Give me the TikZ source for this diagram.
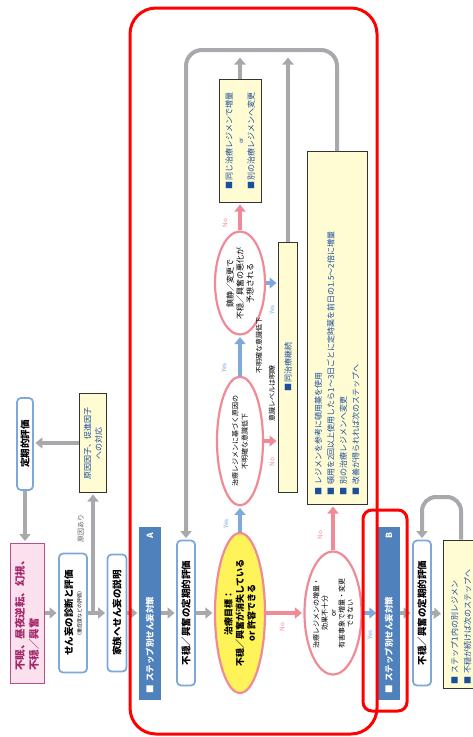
\documentclass[tikz,border=0pt]{standalone}
\usepackage{fontspec}
\setmainfont{Noto Sans CJK JP}
\usetikzlibrary{arrows.meta,shapes.geometric}

\definecolor{boxblue}{HTML}{7EA8DA}
\definecolor{barblue}{HTML}{4F81BD}
\definecolor{arrgray}{HTML}{A7A9AC}
\definecolor{noteyel}{HTML}{FFFBD3}
\definecolor{goalyel}{HTML}{FFF35A}
\definecolor{ringpink}{HTML}{F08A96}
\definecolor{yesblue}{HTML}{7FA9DC}
\definecolor{txtblue}{HTML}{1C4E9E}
\definecolor{sympink}{HTML}{FBE1EE}
\definecolor{symedge}{HTML}{B5508C}
\definecolor{symtxt}{HTML}{A3286A}

\begin{document}
\begin{tikzpicture}[x=1pt,y=-1pt,
  rbox/.style={draw=boxblue,line width=1.8pt,rounded corners=4pt,fill=white,rotate=90,inner sep=1pt,font=\bfseries\fontsize{9.5}{11}\selectfont},
  note/.style={draw=black!80,line width=1pt,fill=noteyel,rotate=90,inner sep=2pt,text=txtblue,font=\fontsize{8}{11}\selectfont},
  sym/.style={draw=symedge,line width=1pt,fill=sympink,rotate=90,align=left,text=symtxt,font=\bfseries\fontsize{10.5}{14}\selectfont},
  bar/.style={fill=barblue,rotate=90,text=white,inner sep=0pt,minimum width=173pt,minimum height=22pt,text width=160pt,font=\bfseries\fontsize{8.5}{10}\selectfont},
  ask/.style={ellipse,draw=ringpink,line width=2.2pt,fill=white,rotate=90,inner sep=0pt,align=center},
  garr/.style={-{Triangle[width=11pt,length=7pt]},draw=arrgray,line width=4pt,shorten >=1.5pt},
  yarr/.style={garr,draw=yesblue},
  narr/.style={garr,draw=ringpink},
  yes/.style={rotate=90,text=yesblue,font=\fontsize{6.5}{7}\selectfont},
  no/.style={yes,text=ringpink},
  lbl/.style={rotate=90,font=\fontsize{7}{8}\selectfont}]
\useasboundingbox (0,0) rectangle (472,737);

% --- entry ---
\node[sym,minimum width=140pt,minimum height=34pt] (symptom) at (27,613) {不眠、昼夜逆転、幻視、\\不穏／興奮};
\node[rbox,minimum width=92pt,minimum height=16pt] (periodic) at (25,444) {定期的評価};
\node[note,minimum width=99pt,minimum height=27pt,align=center] (cause) at (93,443) {原因因子、促進因子\\への対応};
\node[rbox,minimum width=119pt,minimum height=28pt,align=center] (diag) at (73,613) {せん妄の診断と評価\\[-2pt]{\mdseries\fontsize{5}{6}\selectfont（重症度などの評価）}};
\node[rbox,minimum width=117pt,minimum height=19pt] (family) at (117,613) {家族へせん妄の説明};
\node[lbl,text=black!60] (lcause) at (81,528) {原因あり};

% --- step A ---
\node[bar] (barA) at (150,613) {■ ステップ別せん妄対策\hfill A};
\node[rbox,minimum width=145pt,minimum height=18pt] (evalA) at (186,613) {不穏／興奮の定期的評価};
\node[ask,fill=goalyel,minimum width=160pt,minimum height=50pt,font=\bfseries\fontsize{9}{11.5}\selectfont] (goal) at (240,613) {治療目標：\\不穏／興奮が消失している\\or 許容できる};
\node[ask,minimum width=123pt,minimum height=46pt,font=\fontsize{7}{9.5}\selectfont] (check1) at (240,441) {治療レジメンに基づく原因の\\不明確な意識低下};
\node[ask,minimum width=103pt,minimum height=50pt,font=\fontsize{8}{10}\selectfont] (check2) at (240,283) {鎮静／変更で\\不穏／興奮の悪化が\\予想される};
\node[note,minimum width=123pt,minimum height=42pt,align=center] (act1) at (240,141) {■ 同じ治療レジメンで増量\\{\fontsize{6}{7}\selectfont or}\\■ 別の治療レジメンへ変更};
\node[note,minimum width=250pt,minimum height=19pt] (keep) at (288,367) {■ 同治療継続};
\node[note,minimum width=353pt,minimum height=60pt,text width=335pt,align=left,font=\fontsize{8}{12.5}\selectfont] (act2) at (337,328) {■ レジメンを参考に頓用薬を使用\\■ 頓用を2回以上使用したら1～3日ごとに定時薬を前日の1.5～2倍に増量\\■ 別の治療レジメンへ変更\\■ 改善が得られれば次のステップへ};
\node[ask,minimum width=123pt,minimum height=57pt,font=\fontsize{7}{8.5}\selectfont] (check3) at (333,613) {治療レジメンの増量・\\効果不十分\\or\\有害事象で増量・変更\\できない};

% --- step B ---
\node[bar] (barB) at (389,613) {■ ステップ別せん妄対策\hfill B};
\node[rbox,minimum width=145pt,minimum height=18pt] (evalB) at (422,613) {不穏／興奮の定期的評価};
\node[note,minimum width=148pt,minimum height=36pt,text width=140pt,align=left,font=\fontsize{8}{13}\selectfont] (next) at (461,614) {■ ステップ1内の別レジメン\\■ 不穏が続けば次のステップへ};

% --- labels ---
\node[yes] (y1) at (226,524) {Yes};
\node[no] (n1) at (282,627) {No};
\node[yes] (y2) at (224,368) {Yes};
\node[no] (n2) at (272,462) {No};
\node[lbl] (l1) at (259,345) {不明確な意識低下};
\node[lbl] (l2) at (272,393) {意識レベルは明瞭};
\node[yes] (y3) at (272,310) {Yes};
\node[no] (n3) at (225,223) {No};
\node[no] (n4) at (320,535) {No};
\node[yes] (y4) at (370,635) {Yes};

% --- arrows ---
\draw[garr] (periodic.west) -- (periodic.west |- symptom.east);
\draw[garr] (symptom.south) -- (diag.north);
\draw[garr] (diag.south) -- (family.north);
\draw[garr] (diag.south -| cause.west) -- (cause.west);
\draw[garr] (cause.north) -- (cause.north -| periodic.south);
\draw[garr] (family.south) -- (barA.north);
\draw[garr] (barA.south) -- (evalA.north);
\draw[garr] (evalA.south) -- (goal.north);
\draw[yarr] (goal.east) -- (check1.west);
\draw[narr] (goal.south) -- (check3.north);
\draw[yarr] (check1.east) -- (check2.west);
\draw[narr] (check1.south) -- (check1.south -| keep.north);
\draw[yarr] (check2.south) -- (check2.south -| keep.north);
\draw[narr] (check2.east) -- (act1.west);
\draw[narr] (check3.east) -- (check3.east |- act2.west);
\draw[yarr] (check3.south) -- (barB.north);
\draw[garr] (barB.south) -- (evalB.north);
\draw[garr] (evalB.south) -- (next.north);

% loops back
\coordinate (topA) at (0,50);
\coordinate (tipA) at (0,56);
\draw[garr,rounded corners=16pt] (act2.east) -- (act2.east |- topA) -- (evalA.east |- topA) -- (evalA.east);
\draw[garr] (act1.east) -- (act1.east |- tipA);
\draw[garr] (keep.east) -- (keep.east |- tipA);
\coordinate (topB) at (0,497);
\draw[garr,rounded corners=14pt] (next.east) -- (next.east |- topB) -- (evalB.east |- topB) -- (evalB.east);

% red frames
\draw[red,line width=3pt,rounded corners=26pt] (130,8) rectangle (377,734);
\draw[red,line width=3pt,rounded corners=9pt] (363,510) rectangle (407,711);
\end{tikzpicture}
\end{document}
